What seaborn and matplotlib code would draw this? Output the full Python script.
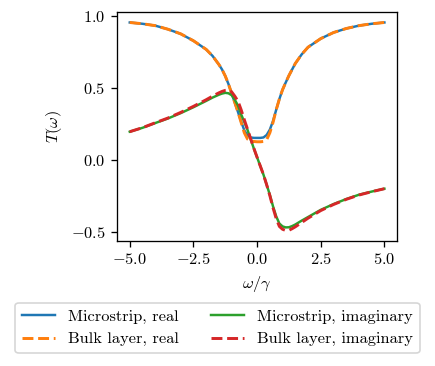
import matplotlib
matplotlib.use("Agg")
import matplotlib.pyplot as plt
import seaborn as sns
import pandas as pd

plt.rcParams["font.family"] = "serif"
plt.rcParams["font.serif"] = ["cmr10", "DejaVu Serif"]
plt.rcParams["mathtext.fontset"] = "cm"
plt.rcParams["axes.formatter.use_mathtext"] = True
plt.rcParams["font.size"] = 10
plt.rcParams["axes.unicode_minus"] = True

omega = [-5, -4.5, -4, -3.5, -3, -2.5, -2, -1.75,
         -1.5, -1.375, -1.25, -1.125, -1, -0.875, -0.75, -0.625,
         -0.5, -0.375, -0.25, -0.125, 0, 0.125, 0.25, 0.375,
         0.5, 0.625, 0.75, 0.875, 1, 1.125, 1.25, 1.375,
         1.5, 1.75, 2, 2.5, 3, 3.5, 4, 4.5, 5]

micro_real = [0.957, 0.948, 0.935, 0.91, 0.878, 0.83, 0.77, 0.725,
              0.665, 0.63, 0.585, 0.53, 0.465, 0.40, 0.335, 0.268,
              0.207, 0.172, 0.158, 0.155, 0.155, 0.155, 0.158, 0.175,
              0.212, 0.272, 0.35, 0.425, 0.49, 0.54, 0.588, 0.63,
              0.672, 0.735, 0.785, 0.845, 0.887, 0.915, 0.935, 0.948, 0.957]

bulk_real = [0.957, 0.948, 0.935, 0.91, 0.878, 0.83, 0.77, 0.725,
             0.665, 0.63, 0.585, 0.53, 0.465, 0.40, 0.335, 0.262,
             0.19, 0.147, 0.133, 0.13, 0.128, 0.128, 0.13, 0.142,
             0.19, 0.262, 0.35, 0.425, 0.49, 0.54, 0.588, 0.63,
             0.672, 0.735, 0.785, 0.845, 0.887, 0.915, 0.935, 0.948, 0.957]

micro_imag = [0.198, 0.225, 0.258, 0.29, 0.327, 0.368, 0.412, 0.435,
              0.455, 0.463, 0.468, 0.465, 0.452, 0.42, 0.38, 0.318,
              0.265, 0.21, 0.145, 0.08, 0.02, -0.04, -0.1, -0.17,
              -0.24, -0.32, -0.39, -0.44, -0.46, -0.467, -0.466, -0.458,
              -0.447, -0.42, -0.395, -0.345, -0.305, -0.27, -0.24, -0.218, -0.198]

bulk_imag = [0.198, 0.226, 0.26, 0.293, 0.332, 0.374, 0.42, 0.445,
             0.468, 0.478, 0.485, 0.487, 0.475, 0.445, 0.41, 0.35,
             0.28, 0.215, 0.148, 0.082, 0.02, -0.04, -0.1, -0.17,
             -0.245, -0.33, -0.405, -0.46, -0.48, -0.488, -0.487, -0.476,
             -0.463, -0.433, -0.403, -0.35, -0.308, -0.272, -0.242, -0.219, -0.198]

labels = ["Microstrip, real", "Bulk layer, real",
          "Microstrip, imaginary", "Bulk layer, imaginary"]

DPI = 118
fig = plt.figure(figsize=(435 / DPI, 366 / DPI), dpi=DPI)
ax = fig.add_axes([0.269, 0.342, 0.644, 0.625])

series = [micro_real, bulk_real, micro_imag, bulk_imag]
colors = ["#1f77b4", "#ff7f0e", "#2ca02c", "#d62728"]
styles = ["-", "--", "-", "--"]
widths = [1.5, 1.8, 1.5, 1.8]
for vals, lab, c, ls, lw in zip(series, labels, colors, styles, widths):
    df = pd.DataFrame({"omega": omega, "T": vals})
    sns.lineplot(data=df, x="omega", y="T", ax=ax, color=c, linestyle=ls,
                 linewidth=lw, label=lab, legend=False)

ax.set_xlabel(r"$\omega/\gamma$")
ax.set_ylabel(r"$T(\omega)$")
ax.set_xticks([-5.0, -2.5, 0.0, 2.5, 5.0])
ax.set_yticks([-0.5, 0.0, 0.5, 1.0])

handles, labs = ax.get_legend_handles_labels()
fig.legend(handles, labs, loc="lower center", bbox_to_anchor=(0.5, 0.013),
           ncol=2, frameon=True, fontsize=10)

fig.savefig("out.png", dpi=DPI)
